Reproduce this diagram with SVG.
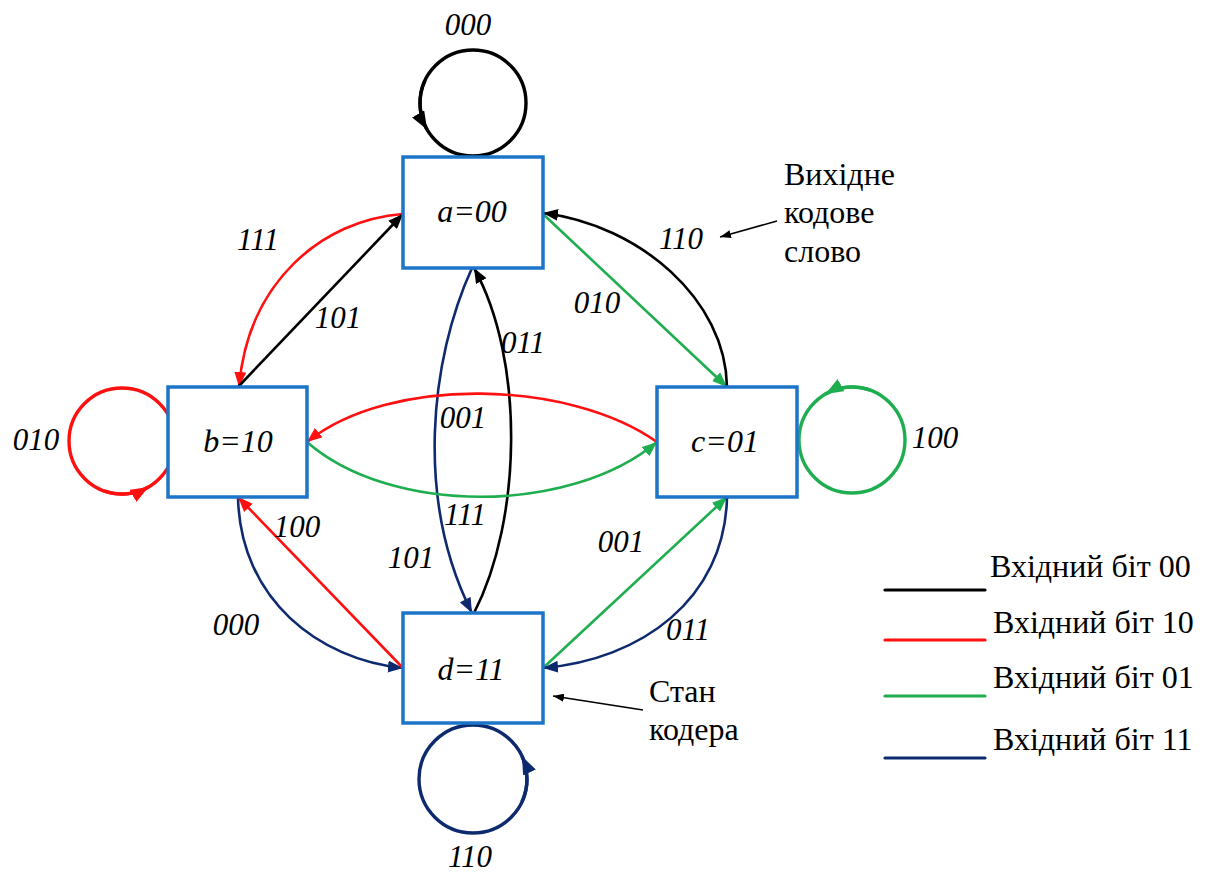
<svg xmlns="http://www.w3.org/2000/svg" width="1208" height="872" viewBox="0 0 1208 872">
  <style>
    .node rect { fill: #ffffff; stroke: #1c75c8; stroke-width: 3.5; }
    .node text { font-family: "Liberation Serif", "Times New Roman", serif; font-style: italic; font-size: 32px; fill: #000; text-anchor: middle; }
    .lbl { font-family: "Liberation Serif", "Times New Roman", serif; font-style: italic; font-size: 31px; fill: #000; text-anchor: middle; }
    .note { font-family: "Liberation Serif", "Times New Roman", serif; font-size: 32px; fill: #000; }
    .e { fill: none; stroke-width: 2.6; }
    .loop { fill: none; stroke-width: 3.4; }
    .k { stroke: #000000; }
    .r { stroke: #ff1010; }
    .g { stroke: #1fae4f; }
    .n { stroke: #0e2a6e; }
  </style>
  <defs>
    <marker id="ak" markerUnits="userSpaceOnUse" markerWidth="16" markerHeight="12" refX="15" refY="6" orient="auto"><path d="M0,0 L15,6 L0,12 z" fill="#000000"/></marker>
    <marker id="ar" markerUnits="userSpaceOnUse" markerWidth="16" markerHeight="12" refX="15" refY="6" orient="auto"><path d="M0,0 L15,6 L0,12 z" fill="#ff1010"/></marker>
    <marker id="ag" markerUnits="userSpaceOnUse" markerWidth="16" markerHeight="12" refX="15" refY="6" orient="auto"><path d="M0,0 L15,6 L0,12 z" fill="#1fae4f"/></marker>
    <marker id="an" markerUnits="userSpaceOnUse" markerWidth="16" markerHeight="12" refX="15" refY="6" orient="auto"><path d="M0,0 L15,6 L0,12 z" fill="#0e2a6e"/></marker>
    <!-- slightly larger heads for the self loops -->
    <marker id="lk" markerUnits="userSpaceOnUse" markerWidth="19" markerHeight="14" refX="18" refY="7" orient="auto"><path d="M0,0 L18,7 L0,14 z" fill="#000000"/></marker>
    <marker id="lr" markerUnits="userSpaceOnUse" markerWidth="19" markerHeight="14" refX="18" refY="7" orient="auto"><path d="M0,0 L18,7 L0,14 z" fill="#ff1010"/></marker>
    <marker id="lg" markerUnits="userSpaceOnUse" markerWidth="19" markerHeight="14" refX="18" refY="7" orient="auto"><path d="M0,0 L18,7 L0,14 z" fill="#1fae4f"/></marker>
    <marker id="ln" markerUnits="userSpaceOnUse" markerWidth="19" markerHeight="14" refX="18" refY="7" orient="auto"><path d="M0,0 L18,7 L0,14 z" fill="#0e2a6e"/></marker>
    <marker id="asmall" markerUnits="userSpaceOnUse" markerWidth="12" markerHeight="8" refX="11" refY="4" orient="auto"><path d="M0,0 L11,4 L0,8 z" fill="#000000"/></marker>
  </defs>

  <!-- transitions between encoder states -->
  <g id="connectors">
    <!-- self loops -->
    <circle class="loop k" cx="473" cy="103" r="53"/>
    <path class="loop k" d="M425,80.6 A53,53 0 0 0 427.1,129.5" marker-end="url(#lk)"/>
    <circle class="loop r" cx="122" cy="441" r="53"/>
    <path class="loop r" d="M103.9,490.8 A53,53 0 0 0 148.5,486.9" marker-end="url(#lr)"/>
    <circle class="loop g" cx="852" cy="440" r="53"/>
    <path class="loop g" d="M870.1,390.2 A53,53 0 0 0 825.5,394.1" marker-end="url(#lg)"/>
    <circle class="loop n" cx="473" cy="779" r="54"/>
    <path class="loop n" d="M521.9,801.8 A54,54 0 0 0 521.9,756.2" marker-end="url(#ln)"/>

    <!-- a <-> b -->
    <path class="e r" d="M403,214 C322,220 248,282 239,387" marker-end="url(#ar)"/>
    <path class="e k" d="M238,387 L403,214" marker-end="url(#ak)"/>
    <!-- a <-> c -->
    <path class="e g" d="M543,214 L727,387" marker-end="url(#ag)"/>
    <path class="e k" d="M727,387 C726,300 640,225 543,213" marker-end="url(#ak)"/>
    <!-- a <-> d -->
    <path class="e n" d="M472,268 C430,360 415,500 472,613" marker-end="url(#an)"/>
    <path class="e k" d="M474,613 C522,520 525,360 474,268" marker-end="url(#ak)"/>
    <!-- b <-> c -->
    <path class="e r" d="M657,442 C570,380 390,375 307,442" marker-end="url(#ar)"/>
    <path class="e g" d="M307,442 C390,515 570,515 657,442" marker-end="url(#ag)"/>
    <!-- b <-> d -->
    <path class="e n" d="M238,497 C240,600 320,660 403,668" marker-end="url(#an)"/>
    <path class="e r" d="M403,668 L238,497" marker-end="url(#ar)"/>
    <!-- c <-> d -->
    <path class="e g" d="M543,668 L727,497" marker-end="url(#ag)"/>
    <path class="e n" d="M727,497 C725,600 640,660 543,668" marker-end="url(#an)"/>

    <!-- annotation pointers -->
    <path fill="none" stroke="#000" stroke-width="1.6" d="M777,221 L720,237" marker-end="url(#asmall)"/>
    <path fill="none" stroke="#000" stroke-width="1.6" d="M643,710 L553,696" marker-end="url(#asmall)"/>
  </g>

  <!-- output code words on the transitions -->
  <g id="edge-labels">
    <text class="lbl" x="468" y="35">000</text>
    <text class="lbl" x="258" y="250">111</text>
    <text class="lbl" x="338" y="328">101</text>
    <text class="lbl" x="523" y="353">011</text>
    <text class="lbl" x="681" y="249">110</text>
    <text class="lbl" x="597" y="313">010</text>
    <text class="lbl" x="36" y="450">010</text>
    <text class="lbl" x="935" y="448">100</text>
    <text class="lbl" x="463" y="428">001</text>
    <text class="lbl" x="465" y="525">111</text>
    <text class="lbl" x="411" y="568">101</text>
    <text class="lbl" x="297" y="537">100</text>
    <text class="lbl" x="236" y="635">000</text>
    <text class="lbl" x="621" y="552">001</text>
    <text class="lbl" x="688" y="640">011</text>
    <text class="lbl" x="470" y="867">110</text>
  </g>

  <!-- encoder states -->
  <g id="node-a" class="node">
    <rect x="403" y="157" width="140" height="111"/>
    <text x="472" y="222">a=00</text>
  </g>
  <g id="node-b" class="node">
    <rect x="168" y="387" width="139" height="110"/>
    <text x="238" y="452">b=10</text>
  </g>
  <g id="node-c" class="node">
    <rect x="657" y="387" width="140" height="110"/>
    <text x="725" y="452">c=01</text>
  </g>
  <g id="node-d" class="node">
    <rect x="403" y="613" width="140" height="110"/>
    <text x="471" y="680">d=11</text>
  </g>

  <!-- explanatory notes -->
  <g id="note-output">
    <text class="note" x="784" y="185">Вихідне</text>
    <text class="note" x="784" y="223">кодове</text>
    <text class="note" x="784" y="262">слово</text>
  </g>
  <g id="note-state">
    <text class="note" x="649" y="702">Стан</text>
    <text class="note" x="649" y="740">кодера</text>
  </g>

  <!-- legend -->
  <g id="legend">
    <line x1="885" y1="590" x2="985" y2="590" stroke="#000000" stroke-width="3.2" stroke-linecap="round"/>
    <line x1="885" y1="640" x2="985" y2="640" stroke="#ff1010" stroke-width="3.2" stroke-linecap="round"/>
    <line x1="885" y1="696" x2="985" y2="696" stroke="#1fae4f" stroke-width="3.2" stroke-linecap="round"/>
    <line x1="885" y1="758" x2="985" y2="758" stroke="#0e2a6e" stroke-width="3.2" stroke-linecap="round"/>
    <text class="note" x="990" y="577">Вхідний біт 00</text>
    <text class="note" x="993" y="633">Вхідний біт 10</text>
    <text class="note" x="993" y="688">Вхідний біт 01</text>
    <text class="note" x="993" y="750">Вхідний біт 11</text>
  </g>
</svg>
